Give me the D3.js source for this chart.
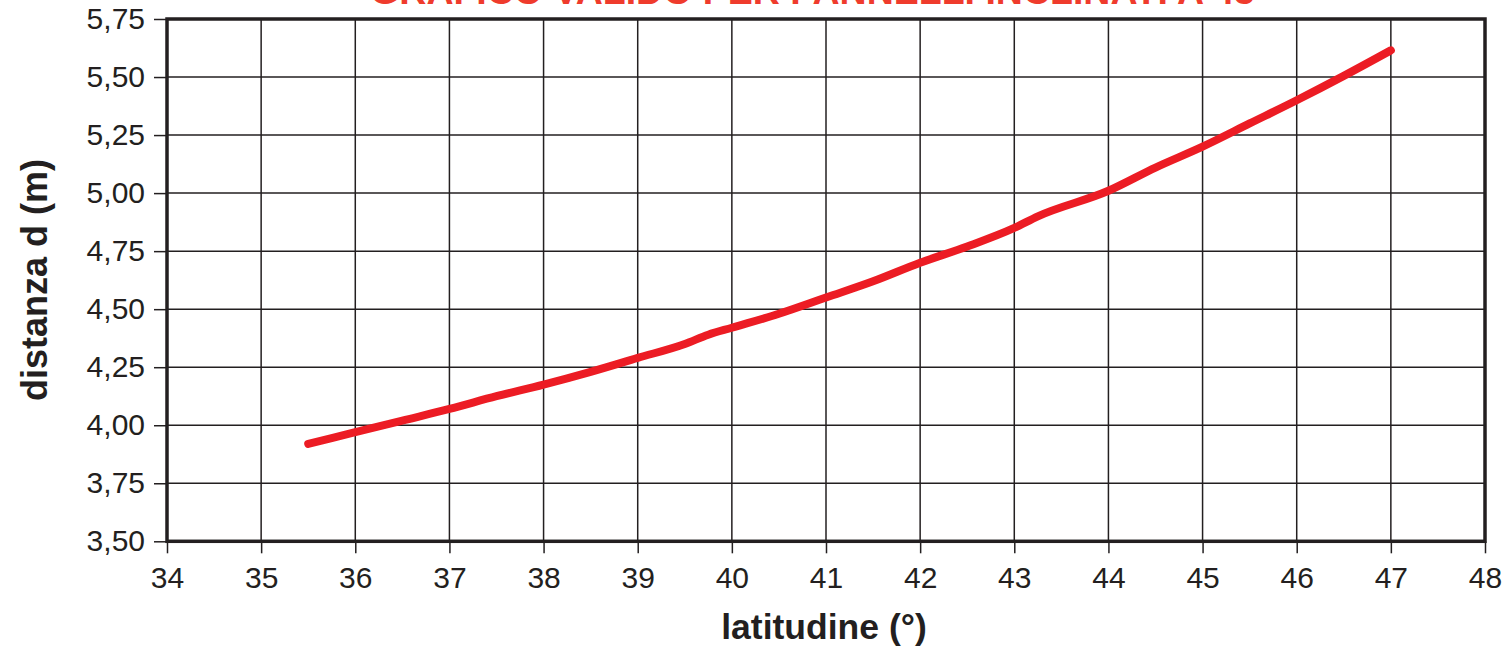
<!DOCTYPE html>
<html>
<head>
<meta charset="utf-8">
<script src="https://cdn.jsdelivr.net/npm/d3@7"></script>
<style>
  html, body { margin: 0; padding: 0; background: #fff; }
  svg { display: block; font-family: "Liberation Sans", Arial, Helvetica, sans-serif; }
</style>
</head>
<body>
<svg id="chart" width="1509" height="654"></svg>
<script>
// Latitude (degrees) and corresponding row spacing d (metres)
const latitudes = [35.5, 36, 36.5, 37, 37.5, 38, 38.5, 39, 39.5, 39.75, 40, 40.5, 41, 41.5, 42, 42.5, 43, 43.25, 44, 44.5, 45, 45.5, 46, 46.5, 47];
const distances = [3.92, 3.97, 4.02, 4.07, 4.125, 4.175, 4.23, 4.29, 4.35, 4.39, 4.42, 4.48, 4.55, 4.62, 4.70, 4.77, 4.85, 4.90, 5.01, 5.11, 5.20, 5.30, 5.40, 5.505, 5.615];

const xTicks = [34, 35, 36, 37, 38, 39, 40, 41, 42, 43, 44, 45, 46, 47, 48];
const yTicks = [3.5, 3.75, 4.0, 4.25, 4.5, 4.75, 5.0, 5.25, 5.5, 5.75];

const titleText = "GRAFICO VALIDO PER PANNELLI INCLINATI A 45°";
const xLabel = "latitudine (°)";
const yLabel = "distanza d (m)";

const svg = d3.select("#chart");
const m = { left: 167, right: 1485, top: 19, bottom: 541.3 };

const x = d3.scaleLinear().domain([34, 48]).range([m.left, m.right]);
const y = d3.scaleLinear().domain([3.5, 5.75]).range([m.bottom, m.top]);

const fmt = d3.format(".2f");
const itFmt = v => fmt(v).replace(".", ",");

// grid
const grid = svg.append("g").attr("stroke", "#231f20").attr("stroke-width", 1.5);
grid.selectAll("line.v").data(xTicks.slice(1, -1)).join("line")
  .attr("x1", d => x(d)).attr("x2", d => x(d))
  .attr("y1", m.top).attr("y2", m.bottom);
grid.selectAll("line.h").data(yTicks.slice(1, -1)).join("line")
  .attr("x1", m.left).attr("x2", m.right)
  .attr("y1", d => y(d)).attr("y2", d => y(d));

// axes
const xAxis = svg.append("g")
  .attr("transform", `translate(0,${m.bottom})`)
  .call(d3.axisBottom(x).tickValues(xTicks).tickSize(12).tickPadding(13).tickFormat(d3.format("d")));
const yAxis = svg.append("g")
  .attr("transform", `translate(${m.left},0)`)
  .call(d3.axisLeft(y).tickValues(yTicks).tickSize(13).tickPadding(9).tickFormat(itFmt));

[xAxis, yAxis].forEach(a => {
  a.select(".domain").remove();
  a.selectAll(".tick line").attr("stroke", "#231f20").attr("stroke-width", 1.5);
  a.selectAll(".tick text").attr("fill", "#231f20").style("font-size", "30px")
    .style("font-family", '"Liberation Sans", Arial, sans-serif');
});

// frame
svg.append("rect")
  .attr("x", m.left).attr("y", m.top)
  .attr("width", m.right - m.left).attr("height", m.bottom - m.top)
  .attr("fill", "none").attr("stroke", "#231f20").attr("stroke-width", 3.5);

// curve
const line = d3.line().x((d, i) => x(latitudes[i])).y(d => y(d)).curve(d3.curveMonotoneX);
svg.append("path")
  .datum(distances)
  .attr("d", line)
  .attr("fill", "none")
  .attr("stroke", "#ec1c24")
  .attr("stroke-width", 8)
  .attr("stroke-linecap", "round")
  .attr("stroke-linejoin", "round");

// title (partly above the top edge)
svg.append("text")
  .attr("x", 820).attr("y", 4)
  .attr("text-anchor", "middle")
  .attr("fill", "#ef3b2c")
  .style("font-size", "37.5px").style("font-weight", "bold")
  .text(titleText);

// axis titles
svg.append("text")
  .attr("x", 824).attr("y", 639)
  .attr("text-anchor", "middle")
  .attr("fill", "#231f20")
  .style("font-size", "35.5px").style("font-weight", "bold")
  .text(xLabel);

svg.append("text")
  .attr("transform", `translate(47,280) rotate(-90)`)
  .attr("text-anchor", "middle")
  .attr("fill", "#231f20")
  .style("font-size", "36px").style("font-weight", "bold")
  .text(yLabel);
</script>
</body>
</html>
